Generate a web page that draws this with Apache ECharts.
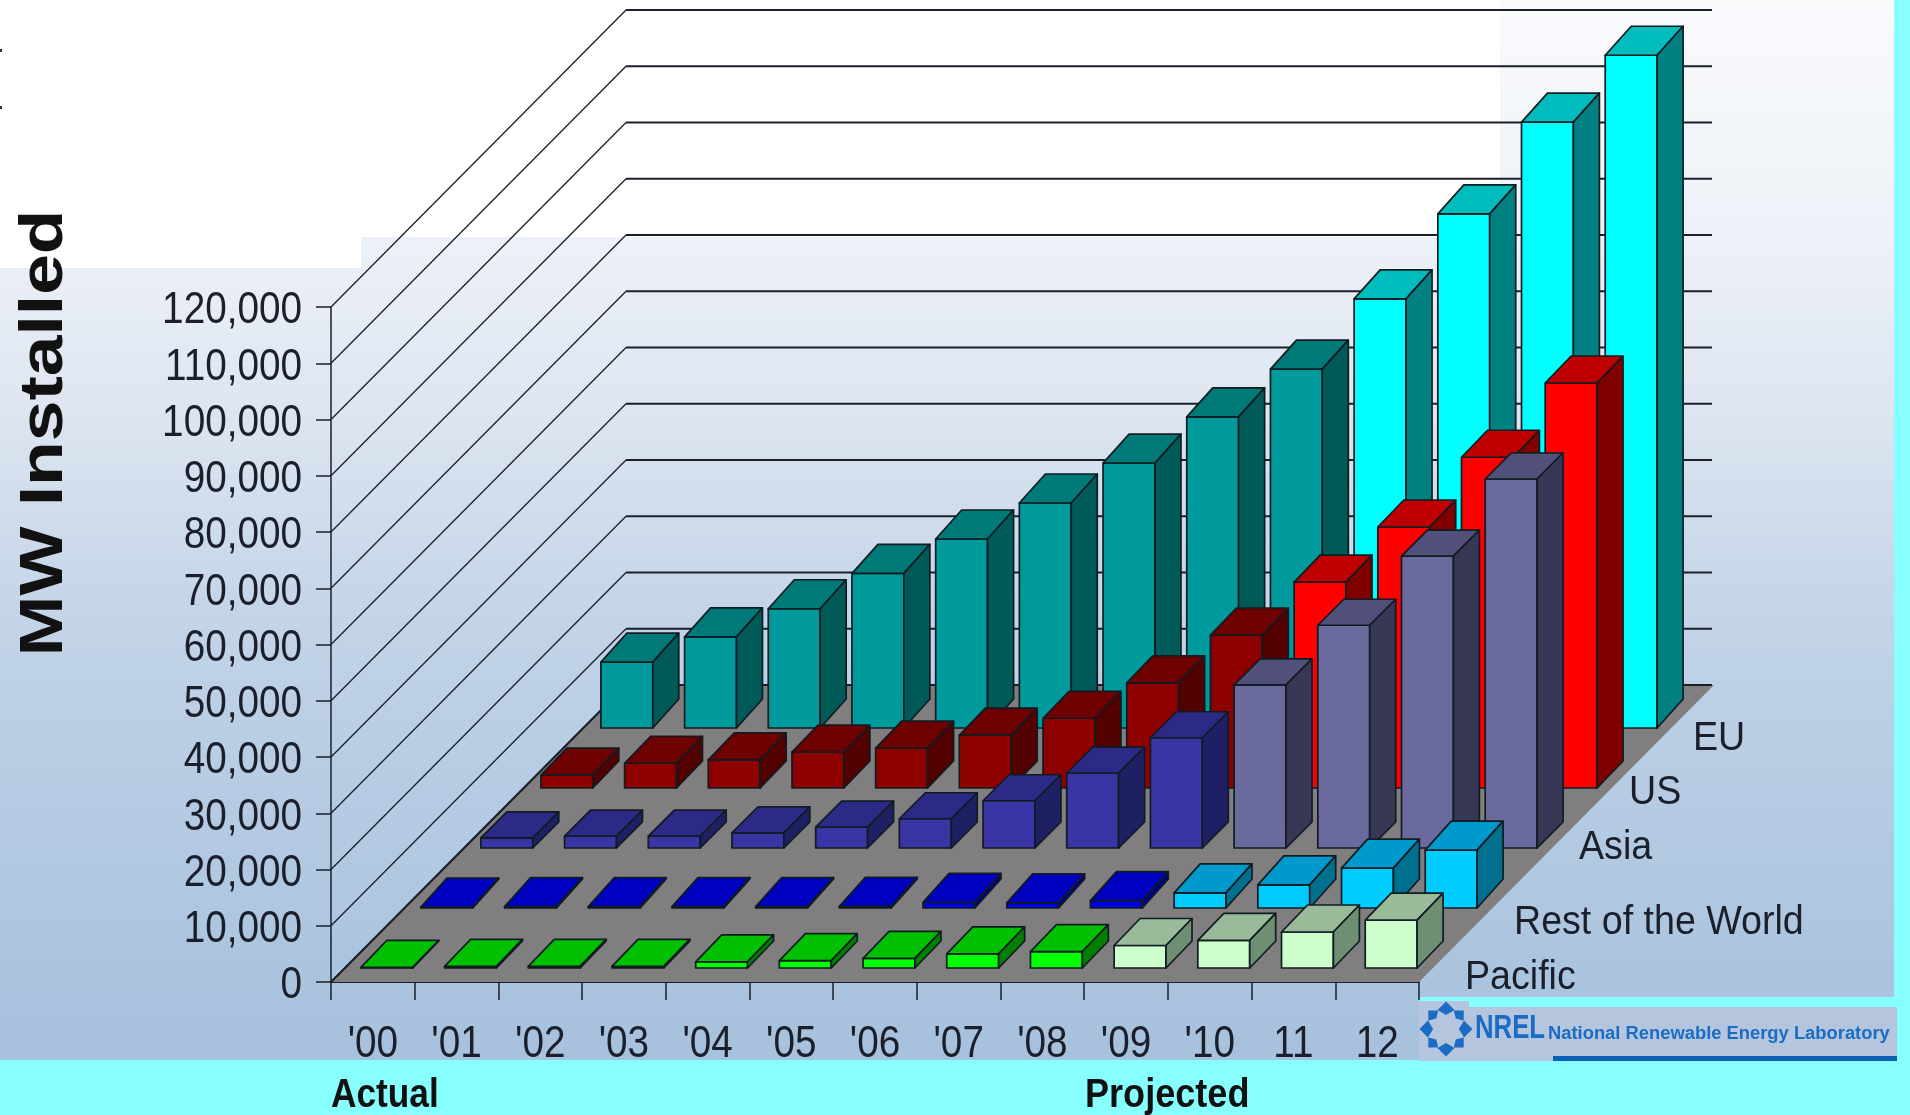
<!DOCTYPE html>
<html>
<head>
<meta charset="utf-8">
<style>
  html, body { margin: 0; padding: 0; width: 1910px; height: 1115px; overflow: hidden; background: #fff; }
  #chart { width: 1910px; height: 1115px; }
</style>
<script src="https://cdn.jsdelivr.net/npm/echarts@6/dist/echarts.min.js"></script>
</head>
<body>
<div id="chart"></div>
<script>
// Installed wind capacity in MW, one array per region, one value per year.
const years = ["'00", "'01", "'02", "'03", "'04", "'05", "'06", "'07", "'08", "'09", "'10", "11", "12"];
const yTicks = [0, 10000, 20000, 30000, 40000, 50000, 60000, 70000, 80000, 90000, 100000, 110000, 120000];

const euValues = [11700, 16200, 21200, 27500, 33600, 40000, 47100, 55300, 63800, 76300, 91400, 107700, 119600];
const usValues = [2300, 4400, 5000, 6400, 7100, 9400, 12400, 18700, 27200, 36600, 46400, 58800, 72000];
const asiaValues = [1800, 2100, 2100, 2700, 3700, 5200, 8400, 13300, 19600, 29000, 39600, 51900, 65600];
const restValues = [150, 250, 250, 250, 250, 300, 1000, 900, 1300, 2700, 4100, 7100, 10300];
const pacificValues = [100, 300, 300, 300, 1100, 1300, 1700, 2500, 2900, 4000, 4900, 6400, 8500];

const regionNames = ['EU', 'US', 'Asia', 'Rest of the World', 'Pacific'];
const regionValues = [euValues, usValues, asiaValues, restValues, pacificValues];

// Rows counted from the front of the floor; years from this index on are projections.
const regionRows = [4, 3, 2, 1, 0];
const firstProjected = 9;

// Face colours per region: [front, top, side].
const actualFaces = [
  ['#009a9c', '#007a78', '#005a58'],
  ['#8e0000', '#6e0000', '#520000'],
  ['#3a34a4', '#2c2a86', '#1f1f63'],
  ['#0000e6', '#0000c0', '#000088'],
  ['#00ff00', '#00c000', '#008000']
];
const projectedFaces = [
  ['#00ffff', '#00bcbc', '#008080'],
  ['#ff0000', '#c00000', '#800000'],
  ['#6b6a9f', '#50507a', '#383856'],
  ['#00ccff', '#0099cc', '#00708f'],
  ['#ccffcc', '#99bb99', '#6f8f72']
];

// Oblique projection of the floor depth onto the screen.
const FLOOR_DX = 295, FLOOR_DY = 297;
const ROW_FRONT = 14, ROW_PITCH = 60;
const BAR_DX = 26;
const BAR_DY = [29, 27, 26, 29, 27];
const BAR_WIDTH_RATIO = 0.62;

const INK = '#1a1f2b';
const EDGE = '#0f1c22';
const FONT = '"Liberation Sans", Arial, sans-serif';
const TICK_FONT_SIZE = 45;
const TICK_SQUEEZE = 0.86;

function poly(points, fill, stroke, lineWidth) {
  return {
    type: 'polygon',
    shape: { points },
    style: { fill, stroke: stroke || EDGE, lineWidth: lineWidth === undefined ? 1.7 : lineWidth, lineJoin: 'round' }
  };
}

function floorItem(params, api) {
  const a = api.coord([0, 0]);
  const band = api.size([1, 0])[0];
  const x0 = a[0] - band / 2, y0 = a[1];
  const x1 = x0 + band * years.length;
  return {
    type: 'group',
    children: [
      poly([[x0, y0], [x1, y0], [x1 + FLOOR_DX, y0 - FLOOR_DY], [x0 + FLOOR_DX, y0 - FLOOR_DY]], '#807e7e', 'none', 0),
      { type: 'line', shape: { x1: x0, y1: y0, x2: x0 + FLOOR_DX, y2: y0 - FLOOR_DY }, style: { stroke: INK, lineWidth: 2 } }
    ]
  };
}

function wallItem(params, api) {
  const origin = api.coord([0, 0]);
  const band = api.size([1, 0])[0];
  const x0 = origin[0] - band / 2;
  const x1 = x0 + band * years.length;
  const y = api.coord([0, api.value(0)])[1];
  return {
    type: 'group',
    children: [
      { type: 'line', shape: { x1: x0, y1: y, x2: x0 + FLOOR_DX, y2: y - FLOOR_DY }, style: { stroke: INK, lineWidth: 1.3 } },
      { type: 'line', shape: { x1: x0 + FLOOR_DX, y1: y - FLOOR_DY, x2: x1 + FLOOR_DX - 2, y2: y - FLOOR_DY }, style: { stroke: INK, lineWidth: 2 } }
    ]
  };
}

function barRenderer(regionIndex) {
  const depth = ROW_FRONT + ROW_PITCH * regionRows[regionIndex];
  const dy = BAR_DY[regionIndex];
  return function (params, api) {
    const year = api.value(0);
    const base = api.coord([year, 0]);
    const top = api.coord([year, api.value(1)]);
    const half = api.size([1, 0])[0] * BAR_WIDTH_RATIO / 2;
    const faces = (year >= firstProjected ? projectedFaces : actualFaces)[regionIndex];
    const l = base[0] + depth - half, r = base[0] + depth + half;
    const b = base[1] - depth, t = top[1] - depth;
    const children = [
      poly([[l, b], [r, b], [r, t], [l, t]], faces[0]),
      poly([[l, t], [r, t], [r + BAR_DX, t - dy], [l + BAR_DX, t - dy]], faces[1]),
      poly([[r, b], [r + BAR_DX, b - dy], [r + BAR_DX, t - dy], [r, t]], faces[2])
    ];
    return { type: 'group', children };
  };
}

// Tick labels are set in a slightly squeezed face, which axisLabel cannot do.
function tickText(text, x, y, align) {
  return {
    type: 'text', x, y, scaleX: TICK_SQUEEZE,
    style: {
      text, fill: INK, font: TICK_FONT_SIZE + 'px ' + FONT,
      align, verticalAlign: 'middle'
    }
  };
}

function yTickLabel(params, api) {
  const value = api.value(0);
  const origin = api.coord([0, 0]);
  const band = api.size([1, 0])[0];
  const y = api.coord([0, value])[1];
  return tickText(value.toLocaleString('en-US'), origin[0] - band / 2 - 29, y + 4, 'right');
}

function xTickLabel(params, api) {
  const index = api.value(0);
  const p = api.coord([index, 0]);
  return tickText(years[index], p[0], p[1] + 63, 'center');
}

// Slide artwork, captions and logo around the plot.
function label(text, x, y, size, opts) {
  opts = opts || {};
  return {
    type: 'text', x, y, z: 20, silent: true,
    scaleX: opts.scaleX || 1,
    rotation: opts.rotation || 0,
    style: {
      text, fill: opts.fill || INK,
      font: (opts.weight || 'normal') + ' ' + size + 'px ' + FONT,
      align: opts.align || 'left', verticalAlign: 'middle'
    }
  };
}

function block(x, y, width, height, fill) {
  return { type: 'rect', z: -5, silent: true, shape: { x, y, width, height }, style: { fill } };
}

const LOGO_BLUE = '#1a6cc4';
const gearCx = 1446, gearCy = 1029;
const gearParts = [];
for (let k = 0; k < 8; k++) {
  const angle = k * Math.PI / 4;
  const cx = gearCx + 18 * Math.cos(angle), cy = gearCy + 19 * Math.sin(angle);
  const reach = k % 2 === 0 ? 8.5 : 7;
  const ux = Math.cos(angle), uy = Math.sin(angle);
  gearParts.push({
    type: 'polygon', z: 20, silent: true,
    shape: { points: [
      [cx + ux * reach, cy + uy * reach],
      [cx - uy * reach, cy + ux * reach],
      [cx - ux * reach * 0.6, cy - uy * reach * 0.6],
      [cx + uy * reach, cy - ux * reach]
    ] },
    style: { fill: LOGO_BLUE }
  });
}

const artwork = [
  block(0, 0, 1910, 1115, {
    type: 'linear', x: 0, y: 0, x2: 0, y2: 1, global: false,
    colorStops: [
      { offset: 0, color: '#f9fafc' },
      { offset: 0.2, color: '#eef2f8' },
      { offset: 0.36, color: '#dfe6f1' },
      { offset: 0.51, color: '#c9d8ea' },
      { offset: 0.63, color: '#bccfe5' },
      { offset: 0.9, color: '#a9c3de' },
      { offset: 1, color: '#a6c0de' }
    ]
  }),
  block(0, 0, 1500, 237, '#ffffff'),
  block(0, 237, 361, 31, '#ffffff'),
  block(0, 1060, 1910, 55, '#88ffff'),
  block(1894, 0, 16, 1115, '#88ffff'),
  block(1419, 997, 491, 118, '#88ffff'),
  block(1419, 1001, 50, 60, '#b4c5dd'),
  block(1469, 1007, 428, 54, '#b4c5dd'),
  block(1553, 1056, 344, 5, '#0c5fb4'),
  block(0, 49, 2, 3, '#333333'),
  block(0, 106, 2, 3, '#333333'),
  ...gearParts,
  label('NREL', 1475, 1029, 33, { weight: 'bold', fill: LOGO_BLUE, scaleX: 0.78 }),
  label('National Renewable Energy Laboratory', 1548, 1034, 18, { weight: 'bold', fill: LOGO_BLUE, scaleX: 1.02 }),
  label('MW Installed', 45, 433, 62, { weight: 'bold', fill: '#111111', rotation: Math.PI / 2, align: 'center', scaleX: 1.18 }),
  label('Actual', 331, 1096, 41, { weight: 'bold', fill: '#111111', scaleX: 0.86 }),
  label('Projected', 1085, 1096, 41, { weight: 'bold', fill: '#111111', scaleX: 0.88 }),
  label('Pacific', 1465, 978, 40, { scaleX: 0.94 }),
  label('Rest of the World', 1514, 923, 40, { scaleX: 0.94 }),
  label('Asia', 1579, 848, 40, { scaleX: 0.94 }),
  label('US', 1629, 793, 40, { scaleX: 0.94 }),
  label('EU', 1693, 739, 40, { scaleX: 0.94 })
];

const regionSeries = regionNames.map((name, i) => ({
  name,
  type: 'custom',
  coordinateSystem: 'cartesian2d',
  clip: false,
  animation: false,
  silent: true,
  encode: { x: 0, y: 1 },
  renderItem: barRenderer(i),
  data: regionValues[i].map((v, c) => [c, v])
}));

const chart = echarts.init(document.getElementById('chart'), null, { renderer: 'canvas' });
chart.setOption({
  animation: false,
  backgroundColor: 'transparent',
  graphic: { elements: artwork },
  grid: { left: 331, top: 307, width: 1088, height: 675, containLabel: false },
  tooltip: { show: false },
  xAxis: {
    type: 'category',
    data: years,
    boundaryGap: true,
    axisLine: { show: true, lineStyle: { color: INK, width: 2 } },
    axisTick: { show: true, length: 18, alignWithLabel: false, lineStyle: { color: INK, width: 1.5 } },
    axisLabel: { show: false }
  },
  yAxis: {
    type: 'value',
    min: 0,
    max: 120000,
    interval: 10000,
    splitLine: { show: false },
    axisLine: { show: true, lineStyle: { color: INK, width: 1.5 } },
    axisTick: { show: true, length: 15, lineStyle: { color: INK, width: 1.5 } },
    axisLabel: { show: false }
  },
  series: [
    {
      name: 'floor', type: 'custom', coordinateSystem: 'cartesian2d', clip: false, silent: true,
      encode: { x: 0, y: 1 }, renderItem: floorItem, data: [[0, 0]]
    },
    {
      name: 'walls', type: 'custom', coordinateSystem: 'cartesian2d', clip: false, silent: true,
      encode: { y: 0 }, renderItem: wallItem, data: yTicks.map(v => [v])
    },
    ...regionSeries,
    {
      name: 'value labels', type: 'custom', coordinateSystem: 'cartesian2d', clip: false, silent: true,
      encode: { y: 0 }, renderItem: yTickLabel, data: yTicks.map(v => [v])
    },
    {
      name: 'year labels', type: 'custom', coordinateSystem: 'cartesian2d', clip: false, silent: true,
      encode: { x: 0 }, renderItem: xTickLabel, data: years.map((y, i) => [i])
    }
  ]
});
</script>
</body>
</html>
